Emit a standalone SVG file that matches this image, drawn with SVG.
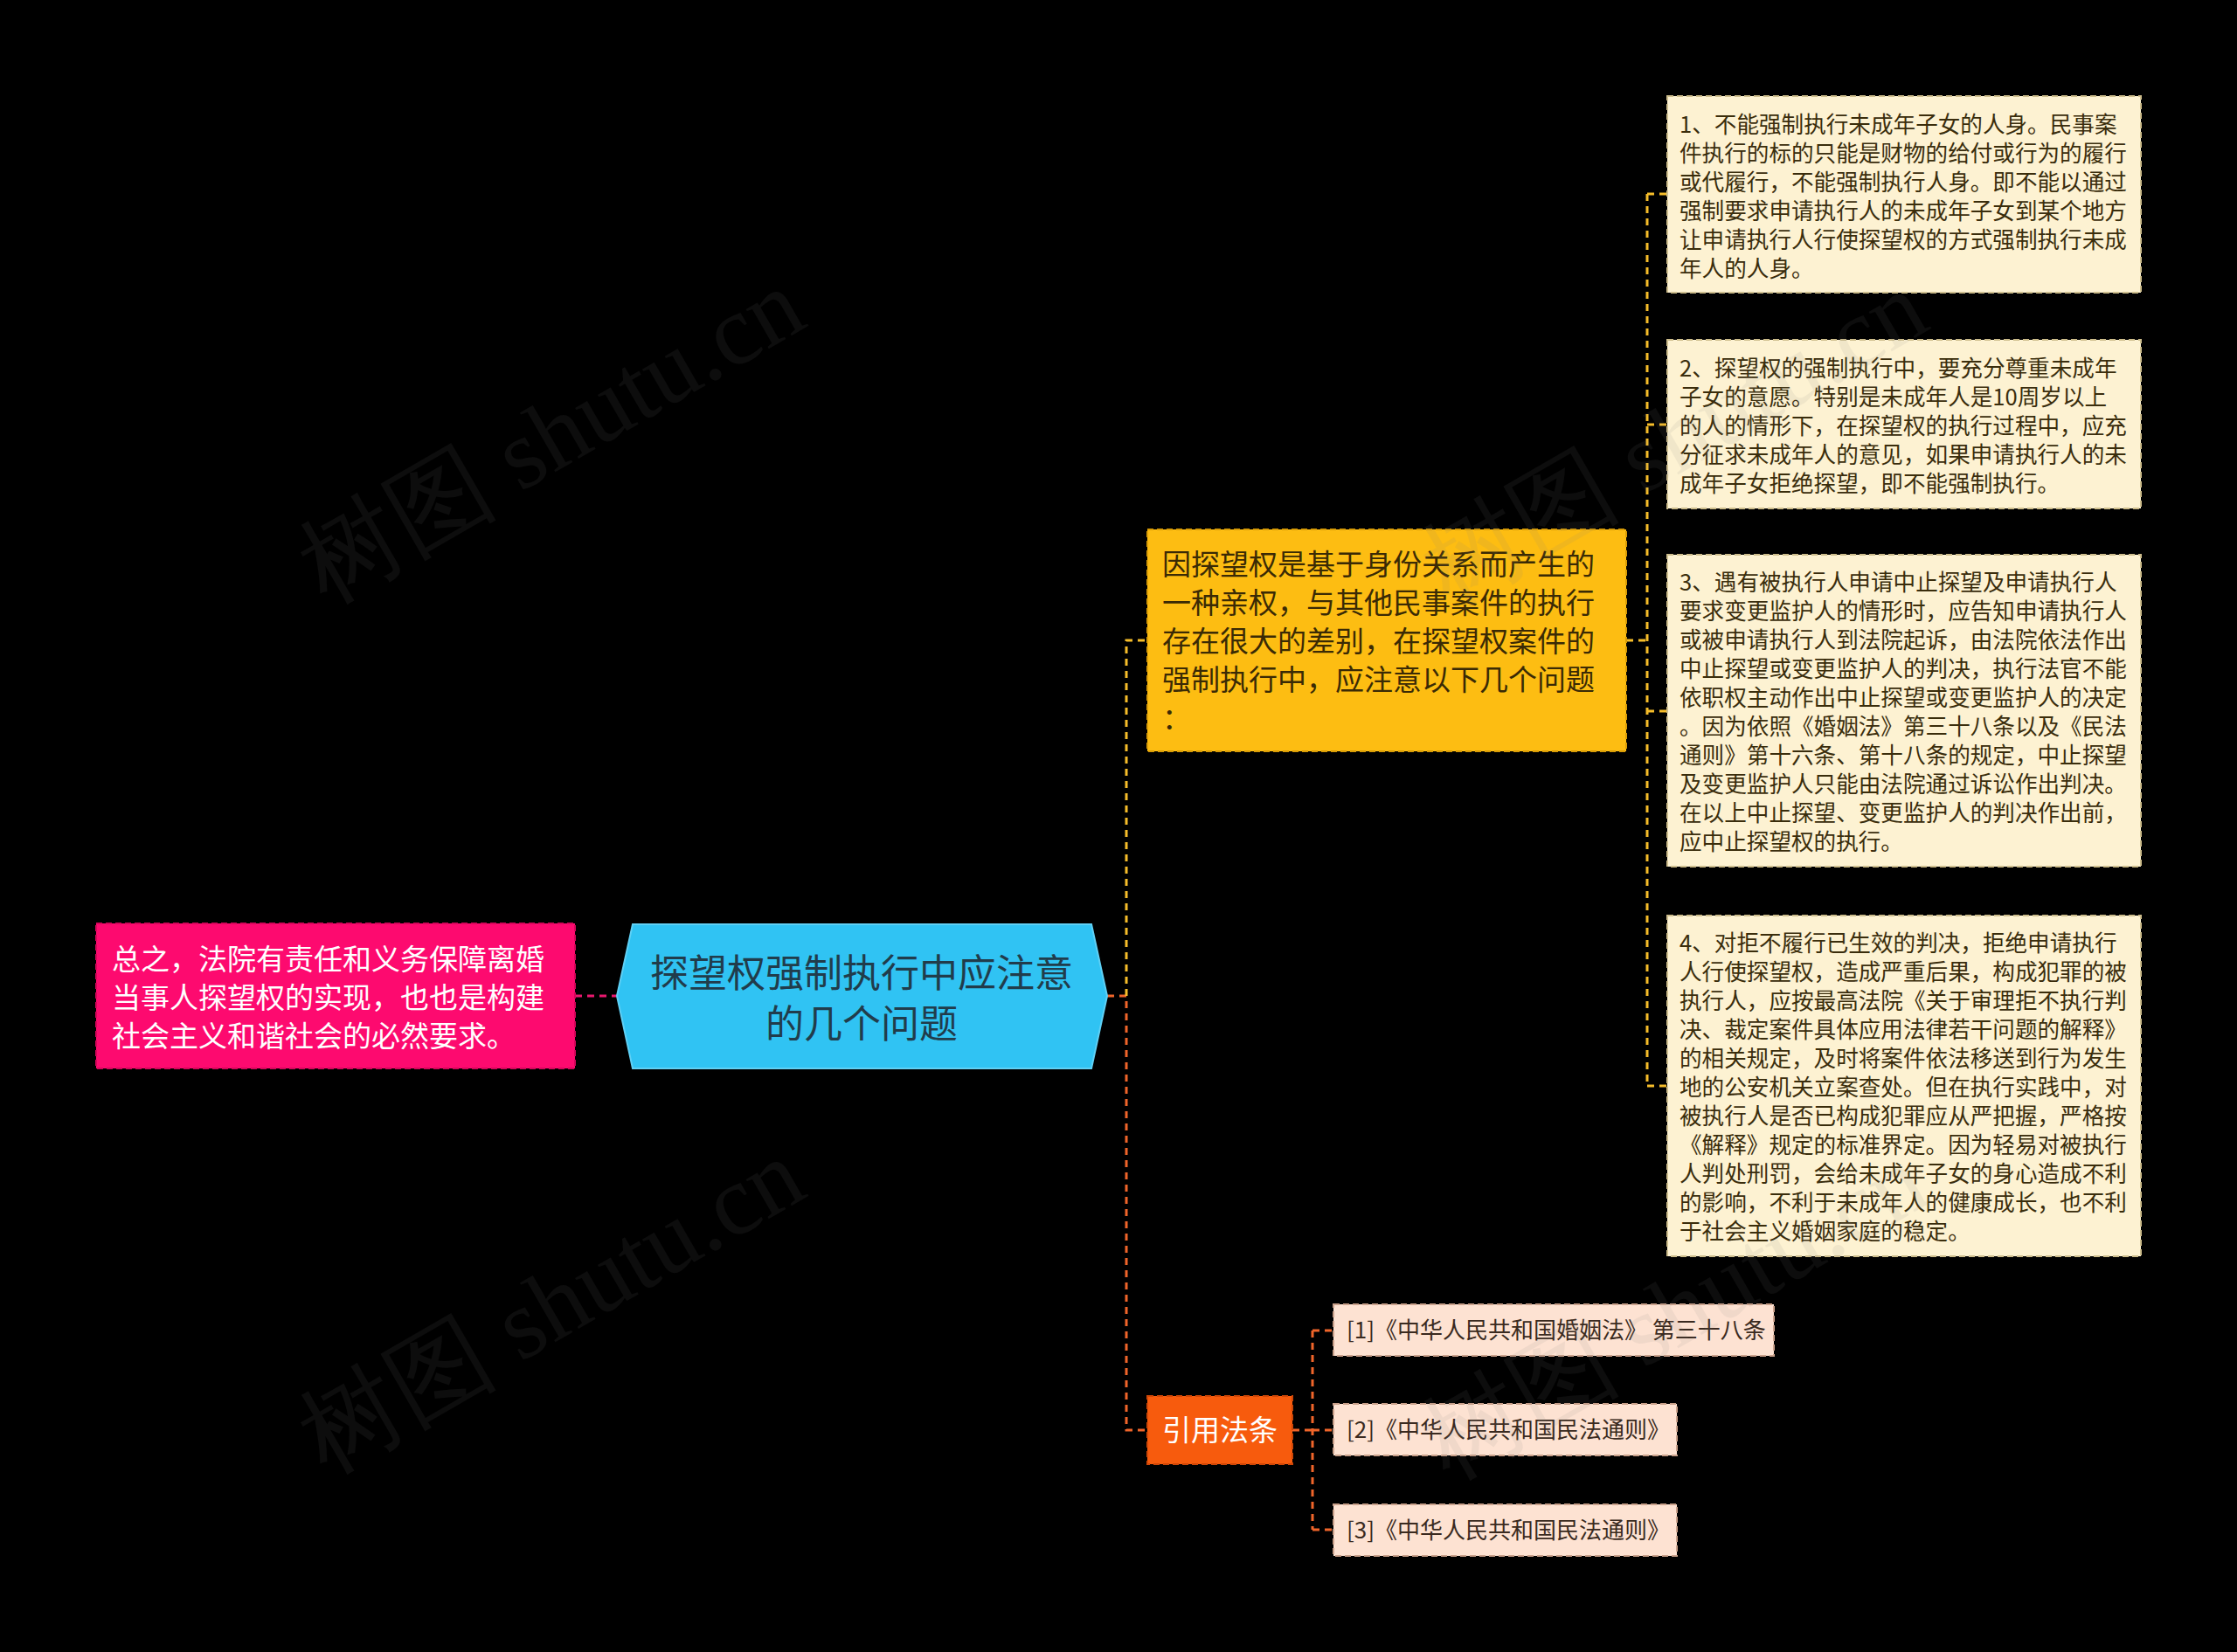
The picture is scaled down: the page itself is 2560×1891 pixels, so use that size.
<svg xmlns="http://www.w3.org/2000/svg" width="2560" height="1891" viewBox="0 0 2560 1891">
<style>
.cjk{font-family:"Noto Sans CJK SC","Noto Sans",sans-serif;}
.con{fill:none;stroke-width:3;stroke-dasharray:8 6;}
.cy{stroke:#f6bd2a;}
.co{stroke:#f0652a;}
.cp{stroke:#e8186e;}
.detail rect{fill:#fdf2d2;stroke:#cdbd8c;stroke-width:2;stroke-dasharray:7 4;}
.detail text{font-size:25.6px;fill:#3a2d0c;}
.ref rect{fill:#fde2d2;stroke:#c9a08a;stroke-width:2;stroke-dasharray:7 4;}
.ref text{font-size:26px;fill:#3a2a20;}
.wm{font-family:"Liberation Serif",serif;font-size:114px;fill:#808080;fill-opacity:0.1;}
</style>
<rect width="2560" height="1891" fill="#000"/>
<g id="connectors">
<line class="con cp" x1="658" y1="1140" x2="706" y2="1140"/>
<path class="con co" d="M1267 1140 H1289 V1637 H1313"/>
<path class="con cy" d="M1289 1140 V733 H1313"/>
<path class="con cy" d="M1861 733 H1885"/>
<path class="con cy" d="M1885 222 V1243"/>
<path class="con cy" d="M1885 222 H1908 M1885 486 H1908 M1885 814 H1908 M1885 1243 H1908"/>
<path class="con co" d="M1479 1637 H1502 M1502 1523 V1751 M1502 1523 H1526 M1502 1637 H1526 M1502 1751 H1526"/>
</g>
<g id="node-center">
<polygon points="706,1140 724,1058 1249,1058 1267,1140 1249,1223 724,1223" fill="#30c3f3" stroke="#5fd0f5" stroke-width="2"/>
<text class="cjk" x="986" y="1130" text-anchor="middle" font-size="44" fill="#213c4b">探望权强制执行中应注意</text>
<text class="cjk" x="986" y="1188" text-anchor="middle" font-size="44" fill="#213c4b">的几个问题</text>
</g>
<g id="node-summary">
<rect x="110" y="1057" width="548" height="166" fill="#fd0a6f" stroke="#d4055a" stroke-width="2" stroke-dasharray="7 4"/>
<text class="cjk" font-size="33" fill="#ffffff"><tspan x="128" y="1110">总之，法院有责任和义务保障离婚</tspan><tspan x="128" y="1154">当事人探望权的实现，也也是构建</tspan><tspan x="128" y="1198">社会主义和谐社会的必然要求。</tspan></text>
</g>
<g id="node-issues">
<rect x="1313" y="606" width="548" height="254" fill="#fdbd12" stroke="#d99c06" stroke-width="2" stroke-dasharray="7 4"/>
<text class="cjk" font-size="33" fill="#3a2a05"><tspan x="1330" y="658">因探望权是基于身份关系而产生的</tspan><tspan x="1330" y="702">一种亲权，与其他民事案件的执行</tspan><tspan x="1330" y="746">存在很大的差别，在探望权案件的</tspan><tspan x="1330" y="790">强制执行中，应注意以下几个问题</tspan><tspan x="1330" y="834">：</tspan></text>
</g>
<g id="node-d1" class="detail">
<rect x="1908" y="110" width="542" height="225"/>
<text class="cjk"><tspan x="1922" y="152">1、不能强制执行未成年子女的人身。民事案</tspan><tspan x="1922" y="185">件执行的标的只能是财物的给付或行为的履行</tspan><tspan x="1922" y="218">或代履行，不能强制执行人身。即不能以通过</tspan><tspan x="1922" y="251">强制要求申请执行人的未成年子女到某个地方</tspan><tspan x="1922" y="284">让申请执行人行使探望权的方式强制执行未成</tspan><tspan x="1922" y="317">年人的人身。</tspan></text>
</g>
<g id="node-d2" class="detail">
<rect x="1908" y="389" width="542" height="193"/>
<text class="cjk"><tspan x="1922" y="431">2、探望权的强制执行中，要充分尊重未成年</tspan><tspan x="1922" y="464">子女的意愿。特别是未成年人是10周岁以上</tspan><tspan x="1922" y="497">的人的情形下，在探望权的执行过程中，应充</tspan><tspan x="1922" y="530">分征求未成年人的意见，如果申请执行人的未</tspan><tspan x="1922" y="563">成年子女拒绝探望，即不能强制执行。</tspan></text>
</g>
<g id="node-d3" class="detail">
<rect x="1908" y="635" width="542" height="357"/>
<text class="cjk"><tspan x="1922" y="676">3、遇有被执行人申请中止探望及申请执行人</tspan><tspan x="1922" y="709">要求变更监护人的情形时，应告知申请执行人</tspan><tspan x="1922" y="742">或被申请执行人到法院起诉，由法院依法作出</tspan><tspan x="1922" y="775">中止探望或变更监护人的判决，执行法官不能</tspan><tspan x="1922" y="808">依职权主动作出中止探望或变更监护人的决定</tspan><tspan x="1922" y="841">。因为依照《婚姻法》第三十八条以及《民法</tspan><tspan x="1922" y="874">通则》第十六条、第十八条的规定，中止探望</tspan><tspan x="1922" y="907">及变更监护人只能由法院通过诉讼作出判决。</tspan><tspan x="1922" y="940">在以上中止探望、变更监护人的判决作出前，</tspan><tspan x="1922" y="973">应中止探望权的执行。</tspan></text>
</g>
<g id="node-d4" class="detail">
<rect x="1908" y="1048" width="542" height="390"/>
<text class="cjk"><tspan x="1922" y="1089">4、对拒不履行已生效的判决，拒绝申请执行</tspan><tspan x="1922" y="1122">人行使探望权，造成严重后果，构成犯罪的被</tspan><tspan x="1922" y="1155">执行人，应按最高法院《关于审理拒不执行判</tspan><tspan x="1922" y="1188">决、裁定案件具体应用法律若干问题的解释》</tspan><tspan x="1922" y="1221">的相关规定，及时将案件依法移送到行为发生</tspan><tspan x="1922" y="1254">地的公安机关立案查处。但在执行实践中，对</tspan><tspan x="1922" y="1287">被执行人是否已构成犯罪应从严把握，严格按</tspan><tspan x="1922" y="1320">《解释》规定的标准界定。因为轻易对被执行</tspan><tspan x="1922" y="1353">人判处刑罚，会给未成年子女的身心造成不利</tspan><tspan x="1922" y="1386">的影响，不利于未成年人的健康成长，也不利</tspan><tspan x="1922" y="1419">于社会主义婚姻家庭的稳定。</tspan></text>
</g>
<g id="node-refs">
<rect x="1313" y="1598" width="166" height="78" fill="#f75b0d" stroke="#d04606" stroke-width="2" stroke-dasharray="7 4"/>
<text class="cjk" x="1396" y="1649" text-anchor="middle" font-size="33" fill="#ffffff">引用法条</text>
</g>
<g id="node-r1" class="ref">
<rect x="1526" y="1493" width="504" height="59"/>
<text class="cjk" x="1541" y="1532">[1]《中华人民共和国婚姻法》 第三十八条</text>
</g>
<g id="node-r2" class="ref">
<rect x="1526" y="1607" width="393" height="59"/>
<text class="cjk" x="1541" y="1646">[2]《中华人民共和国民法通则》</text>
</g>
<g id="node-r3" class="ref">
<rect x="1526" y="1722" width="393" height="59"/>
<text class="cjk" x="1541" y="1761">[3]《中华人民共和国民法通则》</text>
</g>
<g id="watermarks">
<text class="wm" x="650" y="532" text-anchor="middle" transform="rotate(-30 650 532)">树图 shutu.cn</text>
<text class="wm" x="650" y="1528" text-anchor="middle" transform="rotate(-30 650 1528)">树图 shutu.cn</text>
<text class="wm" x="1935" y="535" text-anchor="middle" transform="rotate(-30 1935 535)">树图 shutu.cn</text>
<text class="wm" x="1935" y="1535" text-anchor="middle" transform="rotate(-30 1935 1535)">树图 shutu.cn</text>
</g>
</svg>
